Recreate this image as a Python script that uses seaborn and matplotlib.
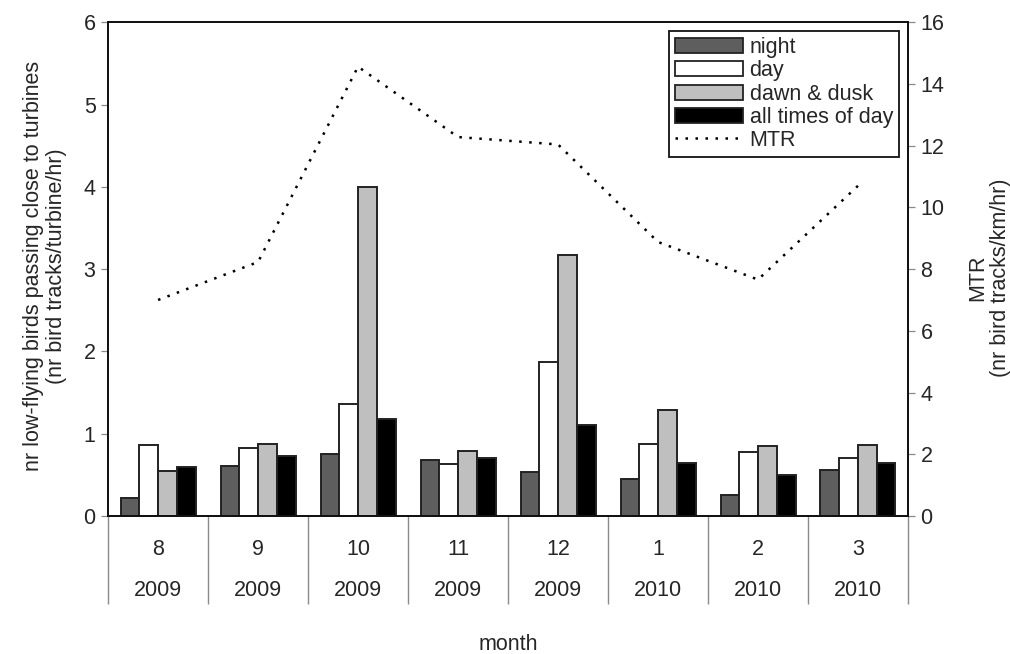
import numpy as np
import pandas as pd
import matplotlib
matplotlib.use('Agg')
import matplotlib.pyplot as plt
from matplotlib.patches import Patch
from matplotlib.lines import Line2D
import seaborn as sns

## values
months = ['8', '9', '10', '11', '12', '1', '2', '3']
years = ['2009', '2009', '2009', '2009', '2009', '2010', '2010', '2010']
night = [0.22, 0.61, 0.75, 0.68, 0.53, 0.45, 0.26, 0.56]
day = [0.86, 0.83, 1.36, 0.63, 1.87, 0.87, 0.78, 0.70]
dawn_dusk = [0.55, 0.88, 4.00, 0.79, 3.17, 1.29, 0.85, 0.86]
all_times = [0.60, 0.73, 1.18, 0.70, 1.11, 0.64, 0.50, 0.65]
mtr = [7.0, 8.23, 14.56, 12.28, 12.04, 8.88, 7.66, 10.7]

periods = ['night', 'day', 'dawn & dusk', 'all times of day']
colors = ['#5e5e5e', '#ffffff', '#bfbfbf', '#000000']

keys = [m + '/' + y for m, y in zip(months, years)]
df = pd.DataFrame({'key': keys * 4,
                   'period': np.repeat(periods, len(keys)),
                   'value': night + day + dawn_dusk + all_times})

sns.set_style('white')
plt.rcParams['font.family'] = ['Liberation Sans', 'DejaVu Sans']
fs = 15.5

fig = plt.figure(figsize=(10.1, 6.54), dpi=100)
ax = fig.add_axes([0.107, 0.211, 0.792, 0.755])

sns.barplot(data=df, x='key', y='value', hue='period', order=keys,
            hue_order=periods, palette=colors, width=0.75, errorbar=None,
            edgecolor='#222222', linewidth=1.4, legend=False, ax=ax)

ax.set_xlim(-0.5, 7.5)
ax.set_ylim(0, 6)
ax.set_yticks(range(0, 7))
ax.set_xlabel('')
ax.set_ylabel('')
ax.set_xticks(range(8))
ax.set_xticklabels([''] * 8)
ax.tick_params(axis='x', which='major', length=0)
# separators of the category table below the axis
ax.set_xticks(np.arange(-0.5, 8, 1), minor=True)
ax.tick_params(axis='x', which='minor', bottom=True, direction='out',
               length=63, width=1.0, color='#8a8a8a')
ax.tick_params(axis='y', direction='out', length=5, width=0.9, color='#888888',
               left=True, labelsize=fs, pad=4)

xt = ax.get_xaxis_transform()
for i, (m, y) in enumerate(zip(months, years)):
    ax.text(i, -0.067, m, transform=xt, ha='center', va='center', fontsize=fs)
    ax.text(i, -0.150, y, transform=xt, ha='center', va='center', fontsize=fs)
ax.text(3.5, -0.261, 'month', transform=xt, ha='center', va='center', fontsize=fs)

fig.text(45 / 1010, 1 - 266 / 654,
         'nr low-flying birds passing close to turbines\n(nr bird tracks/turbine/hr)',
         rotation=90, ha='center', va='center', fontsize=fs, linespacing=1.1)
fig.text(989 / 1010, 1 - 278 / 654, 'MTR\n(nr bird tracks/km/hr)',
         rotation=90, ha='center', va='center', fontsize=fs, linespacing=1.1)

# MTR on the right axis
dots = (0, (1.0, 3.0))
ax2 = ax.twinx()
sns.lineplot(x=np.arange(8), y=mtr, ax=ax2, color='black', linewidth=1.8)
ax2.lines[0].set_linestyle(dots)
ax2.set_ylim(0, 16)
ax2.set_yticks(range(0, 17, 2))
ax2.set_ylabel('')
ax2.tick_params(axis='y', direction='out', length=5, width=0.9, color='#888888',
                right=True, labelsize=fs, pad=4)

for a in (ax, ax2):
    for s in a.spines.values():
        s.set_color('#111111')
        s.set_linewidth(1.3)

handles = [Patch(facecolor=c, edgecolor='#222222', linewidth=1.3) for c in colors]
handles.append(Line2D([0], [0], color='black', linewidth=1.8, linestyle=dots))
leg = ax2.legend(handles, periods + ['MTR'], loc='upper right', fontsize=fs,
                 frameon=True, fancybox=False, framealpha=1, edgecolor='#111111',
                 handlelength=3.15, handleheight=0.7, handletextpad=0.3,
                 labelspacing=0.1, borderpad=0.3, borderaxespad=0.4)
leg.get_frame().set_linewidth(1.3)

fig.savefig('out.png', dpi=100)
